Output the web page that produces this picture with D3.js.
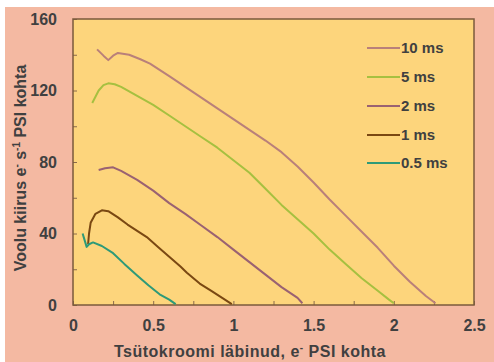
<!DOCTYPE html>
<html><head><meta charset="utf-8">
<script src="https://cdn.jsdelivr.net/npm/d3@7"></script>
<style>body{margin:0;background:#fff}svg{display:block}</style>
</head><body>
<svg id="c" width="494" height="362"></svg>
<script>
const seriesNames = ["10 ms","5 ms","2 ms","1 ms","0.5 ms"];
const seriesColors = ["#b9807a","#a6c040","#9a6272","#7a4812","#2e9a78"];
const s10 = [[0.15,143],[0.19,139.5],[0.22,137],[0.25,139.5],[0.28,141],[0.35,140],[0.42,137.5],[0.48,135],[0.6,128],[0.7,122],[0.8,116],[0.9,110],[1.0,104],[1.1,98],[1.2,92],[1.3,85.5],[1.4,77.5],[1.5,68.5],[1.6,59],[1.7,50],[1.8,41],[1.9,32],[2.0,22],[2.1,13],[2.2,5],[2.26,1]];
const s5 = [[0.12,113],[0.16,120],[0.19,123],[0.22,124],[0.26,123.5],[0.3,122],[0.4,117],[0.5,112],[0.6,106],[0.7,100],[0.8,94],[0.9,88],[1.0,81],[1.1,74],[1.2,65],[1.3,56],[1.4,48],[1.5,40],[1.6,31],[1.7,23],[1.8,15],[1.9,8],[1.97,3],[2.0,1]];
const s2 = [[0.16,75.5],[0.2,76.5],[0.25,77],[0.3,75],[0.4,70],[0.5,64],[0.6,57],[0.7,51],[0.8,44.5],[0.9,38],[1.0,31],[1.1,24],[1.2,17],[1.3,10],[1.4,4],[1.43,1]];
const s1 = [[0.094,34],[0.1,40],[0.11,46],[0.14,51],[0.18,53],[0.22,52.5],[0.28,49],[0.34,45],[0.4,41.5],[0.46,38],[0.53,32.5],[0.6,27],[0.67,21.5],[0.71,18],[0.79,12],[0.86,8],[0.93,4],[0.99,0.5]];
const s05 = [[0.06,40],[0.07,37],[0.085,32.5],[0.1,34],[0.125,35],[0.18,33],[0.25,29],[0.32,23],[0.4,16.5],[0.47,11],[0.54,6],[0.6,3],[0.64,0.5]];
const seriesData = [s10,s5,s2,s1,s05];
const xTicks = [0,0.5,1,1.5,2,2.5];
const yTicks = [0,40,80,120,160];

const svg = d3.select("#c");
const L=73,R=474,T=19,B=305;
svg.append("rect").attr("x",5).attr("y",7).attr("width",489).attr("height",355).attr("fill","#f4b9a2");
svg.append("rect").attr("x",L).attr("y",T).attr("width",R-L).attr("height",B-T).attr("fill","#fdd57c");

const x = d3.scaleLinear().domain([0,2.5]).range([L,R]);
const y = d3.scaleLinear().domain([0,160]).range([B,T]);

const gx = svg.append("g").attr("transform",`translate(0,${B})`)
  .call(d3.axisTop(x).tickValues(d3.range(0,2.51,0.25)).tickSize(4).tickFormat(""));
const gy = svg.append("g").attr("transform",`translate(${L},0)`)
  .call(d3.axisRight(y).tickValues(d3.range(0,161,20)).tickSize(4).tickFormat(""));
[gx,gy].forEach(g=>{g.select(".domain").remove();g.selectAll("line").attr("stroke","#8a6a4a").attr("stroke-width",1);});

const ft = "Liberation Sans, Arial, sans-serif";
const xl = svg.append("g").attr("transform",`translate(0,${B})`)
  .call(d3.axisBottom(x).tickValues(xTicks).tickSize(0).tickPadding(15).tickFormat(d3.format("")));
const yl = svg.append("g").attr("transform",`translate(${L},0)`)
  .call(d3.axisLeft(y).tickValues(yTicks).tickSize(0).tickPadding(16).tickFormat(d3.format("")));
[xl,yl].forEach(g=>{g.select(".domain").remove();g.selectAll("text").attr("font-family",ft).attr("font-size",16).attr("font-weight","bold").attr("fill","#404040");});

svg.append("rect").attr("x",L).attr("y",T).attr("width",R-L).attr("height",B-T).attr("fill","none").attr("stroke","#7a5a3c").attr("stroke-width",1.5);

const line = d3.line().x(d=>x(d[0])).y(d=>y(d[1]));
seriesData.forEach((s,i)=>{
  svg.append("path").datum(s).attr("d",line).attr("fill","none").attr("stroke",seriesColors[i]).attr("stroke-width",2).attr("stroke-linejoin","round");
});

const legY = [48,77,106,135,163];
seriesNames.forEach((n,i)=>{
  svg.append("line").attr("x1",367).attr("x2",400).attr("y1",legY[i]).attr("y2",legY[i]).attr("stroke",seriesColors[i]).attr("stroke-width",2);
  svg.append("text").attr("x",401).attr("y",legY[i]+5).text(n).attr("font-family",ft).attr("font-size",15).attr("font-weight","bold").attr("fill","#404040");
});

const xt = svg.append("text").attr("x",250).attr("y",357).attr("text-anchor","middle").attr("font-family",ft).attr("font-size",16).attr("letter-spacing",0.5).attr("font-weight","bold").attr("fill","#404040");
xt.append("tspan").text("Tsütokroomi läbinud,  e");
xt.append("tspan").attr("dy",-6).attr("font-size",10).text("-");
xt.append("tspan").attr("dy",6).text(" PSI kohta");

const yt = svg.append("text").attr("transform","translate(26,168) rotate(-90)").attr("text-anchor","middle").attr("font-family",ft).attr("font-size",16).attr("font-weight","bold").attr("fill","#404040");
yt.append("tspan").text("Voolu kiirus e");
yt.append("tspan").attr("dy",-6).attr("font-size",10).text("-");
yt.append("tspan").attr("dy",6).text(" s");
yt.append("tspan").attr("dy",-6).attr("font-size",10).text("-1");
yt.append("tspan").attr("dy",6).text(" PSI kohta");
</script>
</body></html>
